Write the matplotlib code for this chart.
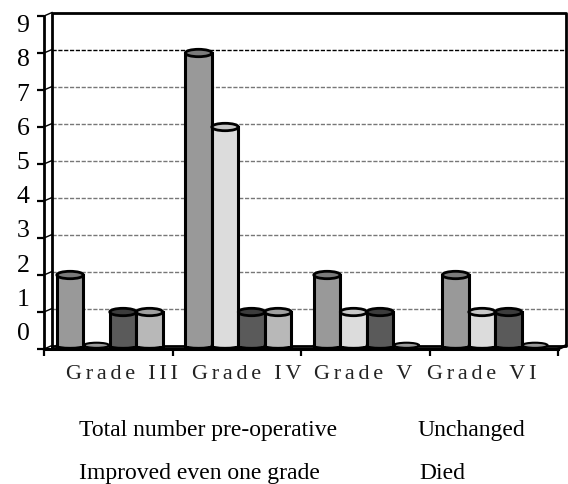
import matplotlib
matplotlib.use("Agg")
import matplotlib.pyplot as plt
from matplotlib.patches import Ellipse

plt.rcParams['font.family'] = ['Liberation Serif', 'DejaVu Sans']

grades = ["Grade III", "Grade IV", "Grade V", "Grade VI"]
total_preop = [2, 8, 2, 2]
improved = [0, 6, 1, 1]
unchanged = [1, 1, 1, 1]
died = [1, 1, 0, 0]
y_labels = [0, 1, 2, 3, 4, 5, 6, 7, 8, 9]

series = [total_preop, improved, unchanged, died]
body_colors = ["#999999", "#dcdcdc", "#5a5a5a", "#b8b8b8"]
top_colors = ["#7a7a7a", "#c8c8c8", "#3c3c3c", "#a0a0a0"]
# the labels sit on their own spacing in the original, not on the ticks
label_x = [122, 247, 363, 482]
legend_rows = [("Total number pre-operative", 79, 436), ("Unchanged", 417, 436),
               ("Improved even one grade", 79, 479), ("Died", 419, 479)]

W, H = 568, 484
fig = plt.figure(figsize=(W / 100, H / 100), dpi=100, facecolor="white")
ax = fig.add_axes([44 / W, (H - 349) / H, 514 / W, 333 / H])
ax.set_xlim(0, 4)
ax.set_ylim(0, 9)
ax.patch.set_alpha(0)

# size of one pixel in data units, for the fake 3d walls
px = 4 / 514
py = 9 / 333
dx, dy = 8 * px, 3.5 * py

# back wall and grid
for v in y_labels[1:-1]:
    clr = "black" if v == 8 else "#777777"
    ax.plot([dx, 4 + dx], [v + dy, v + dy], color=clr, lw=1, ls=(0, (3, 1.2)), zorder=1, clip_on=False)
for v in y_labels:
    ax.plot([0, dx], [v, v + dy], color="black", lw=1, zorder=1, clip_on=False)
ax.plot([dx, dx, 4 + dx, 4 + dx, dx], [dy, 9 + dy, 9 + dy, dy, dy], color="black", lw=2, zorder=1, clip_on=False)
ax.plot([4, 4 + dx], [0, dy], color="black", lw=2, zorder=1, clip_on=False)

width = 0.206
for j, vals in enumerate(series):
    for i, v in enumerate(vals):
        x = i + 0.1 + width / 2 + j * width
        if v == 0:
            ax.add_patch(Ellipse((x, 0.1), width * 0.95, 0.14, fc="#999999", ec="black", lw=1.5, zorder=3 + j))
            continue
        ax.add_patch(Ellipse((x, 0.08), width, 0.12, fc=body_colors[j], ec="black", lw=2, zorder=3 + j, clip_on=False))
        ax.bar(x, v - 0.08, width, bottom=0.08, color=body_colors[j], edgecolor="none", zorder=3 + j)
        ax.plot([x - width / 2, x - width / 2], [0.08, v], color="black", lw=2.2, zorder=3 + j)
        ax.plot([x + width / 2, x + width / 2], [0.08, v], color="black", lw=2.2, zorder=3 + j)
        ax.add_patch(Ellipse((x, v), width, 0.2, fc=top_colors[j], ec="black", lw=2, zorder=3 + j))

for s in ["top", "right"]:
    ax.spines[s].set_visible(False)
ax.spines["left"].set_linewidth(2)
ax.spines["bottom"].set_linewidth(2.2)
ax.set_xticks(range(5))
ax.set_yticks(y_labels)
ax.set_xticklabels([])
ax.set_yticklabels([])
ax.tick_params(axis="both", length=5, width=1.6, color="black")

for v in y_labels:
    fig.text(23 / W, 1 - (340 - v * 34.2) / H, str(v), fontsize=18.5, ha="center", va="baseline")
for name, x in zip(grades, label_x):
    fig.text(x / W, 1 - 379 / H, "\u200a\u200a".join(name), fontsize=16, ha="center", va="baseline", color="#222222")
for txt, x, y in legend_rows:
    fig.text(x / W, 1 - y / H, txt, fontsize=17, ha="left", va="baseline")

fig.savefig("out.png", dpi=100)
